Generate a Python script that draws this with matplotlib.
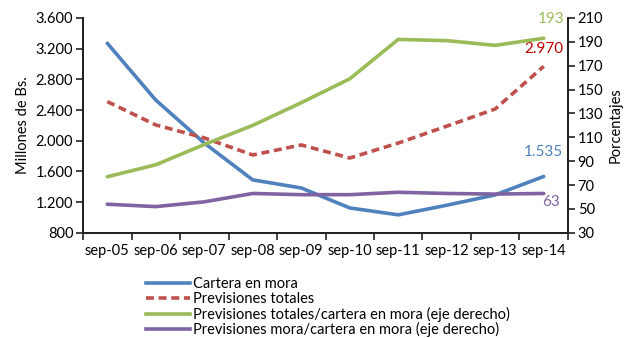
import numpy as np
import matplotlib.pyplot as plt
from matplotlib.lines import Line2D

# Data
periods = ['sep-05', 'sep-06', 'sep-07', 'sep-08', 'sep-09',
           'sep-10', 'sep-11', 'sep-12', 'sep-13', 'sep-14']
cartera_mora = [3270, 2530, 1970, 1490, 1385, 1125, 1035, 1160, 1295, 1535]
previsiones_totales = [2510, 2206, 2037, 1815, 1945, 1775, 1970, 2190, 2414, 2970]
prev_tot_ratio = [77, 87, 104, 120, 139, 159, 192, 191, 187, 193]
prev_mora_ratio = [54, 52, 56, 63, 62, 62, 64, 63, 62.5, 63]

BLUE = '#4F81BD'
RED = '#C0504D'
GREEN = '#9BBB59'
PURPLE = '#8064A2'

plt.rcParams['font.family'] = ['Lato', 'DejaVu Sans']
plt.rcParams['font.size'] = 10.5

fig = plt.figure(figsize=(6.29, 3.38), dpi=100)
ax = fig.add_axes([0.132, 0.311, 0.771, 0.636])
ax2 = ax.twinx()

x = np.arange(len(periods))
ax.plot(x, cartera_mora, color=BLUE, lw=2.6, solid_capstyle='round')
ax.plot(x, previsiones_totales, color=RED, lw=2.6, ls=(0, (2.2, 1.3)))
ax2.plot(x, prev_tot_ratio, color=GREEN, lw=2.6, solid_capstyle='round')
ax2.plot(x, prev_mora_ratio, color=PURPLE, lw=2.6, solid_capstyle='round')

ax.set_xlim(-0.5, len(periods) - 0.5)
ax.set_ylim(800, 3600)
ax.set_yticks(np.arange(800, 3601, 400))
ax.set_yticklabels([f'{v:,}'.replace(',', '.') for v in range(800, 3601, 400)])
ax2.set_ylim(30, 210)
ax2.set_yticks(np.arange(30, 211, 20))

ax.set_xticks(x)
ax.set_xticklabels(periods)
ax.set_xticks(np.arange(-0.5, len(periods), 1), minor=True)
ax.tick_params(axis='x', which='major', length=0, pad=8)
ax.tick_params(axis='x', which='minor', length=5, width=1.2, color='#222222')
ax.tick_params(axis='y', length=5, width=1.2, color='#222222', pad=2)
ax2.tick_params(axis='y', length=5, width=1.2, color='#222222', pad=2)

for a in (ax, ax2):
    a.spines['top'].set_visible(False)
    for s in ('left', 'right', 'bottom'):
        a.spines[s].set_linewidth(1.4)
        a.spines[s].set_color('#222222')

ax.set_ylabel('Millones de Bs.', labelpad=4)
ax2.set_ylabel('Porcentajes', labelpad=4)

# End-point labels
ax2.text(9.15, 209, '193', color=GREEN, fontsize=11, ha='center', va='center')
ax.text(9.0, 3200, '2.970', color='#C00000', fontsize=11, ha='center', va='center')
ax.text(9.0, 1850, '1.535', color=BLUE, fontsize=11, ha='center', va='center')
ax2.text(9.15, 55.5, '63', color=PURPLE, fontsize=11, ha='center', va='center')

handles = [
    Line2D([], [], color=BLUE, lw=2.6),
    Line2D([], [], color=RED, lw=2.6, ls=(0, (2.2, 1.3))),
    Line2D([], [], color=GREEN, lw=2.6),
    Line2D([], [], color=PURPLE, lw=2.6),
]
labels = ['Cartera en mora', 'Previsiones totales',
          'Previsiones totales/cartera en mora (eje derecho)',
          'Previsiones mora/cartera en mora (eje derecho)']
fig.legend(handles, labels, loc='upper left', bbox_to_anchor=(0.232, 0.18),
           frameon=False, fontsize=10.5, handlelength=3.0, handletextpad=0.2,
           labelspacing=0.05, borderaxespad=0, borderpad=0)

fig.savefig('out.png', dpi=100)
